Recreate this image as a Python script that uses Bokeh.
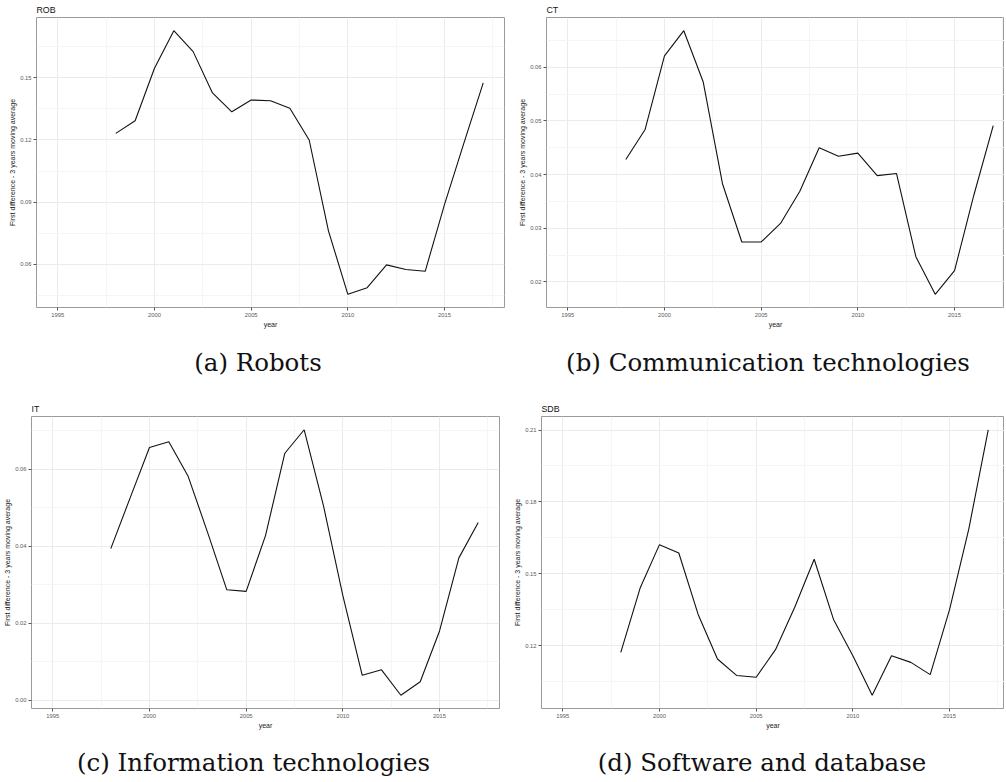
from bokeh.plotting import figure
from bokeh.models import Range1d, FixedTicker, Div, NumeralTickFormatter
from bokeh.layouts import column, row
from bokeh.embed import file_html
from bokeh.resources import INLINE

# ---------------- data ----------------
years = list(range(1998, 2018))
x_domain = [1995, 2017]
x_ticks = [1995, 2000, 2005, 2010, 2015]
x_minor = [1992.5, 1997.5, 2002.5, 2007.5, 2012.5, 2017.5]

rob = [0.1232, 0.1293, 0.1546, 0.1727, 0.1626, 0.1427, 0.1336, 0.1393, 0.1389, 0.1353,
       0.1200, 0.0761, 0.0456, 0.0488, 0.0598, 0.0576, 0.0567, 0.0890, 0.1185, 0.1475]
ct = [0.0428, 0.0484, 0.0621, 0.0668, 0.0573, 0.0383, 0.02745, 0.02745, 0.0309, 0.0369,
      0.0450, 0.0434, 0.0440, 0.0398, 0.0402, 0.0247, 0.0177, 0.0221, 0.0362, 0.0491]
it = [0.0394, 0.0526, 0.0657, 0.0672, 0.0582, 0.0437, 0.0287, 0.0283, 0.0428, 0.0642,
      0.0703, 0.0505, 0.0272, 0.0065, 0.0079, 0.0013, 0.0048, 0.0180, 0.0370, 0.0462]
sdb = [0.1173, 0.1441, 0.1622, 0.1587, 0.1331, 0.1145, 0.1076, 0.1069, 0.1184, 0.1362,
       0.1561, 0.1310, 0.1159, 0.0994, 0.1159, 0.1131, 0.1080, 0.1351, 0.1689, 0.2101]

rob_ticks = [0.06, 0.09, 0.12, 0.15]
rob_minor = [0.045, 0.075, 0.105, 0.135, 0.165]
ct_ticks = [0.02, 0.03, 0.04, 0.05, 0.06]
ct_minor = [0.015, 0.025, 0.035, 0.045, 0.055, 0.065]
it_ticks = [0.00, 0.02, 0.04, 0.06]
it_minor = [-0.01, 0.01, 0.03, 0.05, 0.07]
sdb_ticks = [0.12, 0.15, 0.18, 0.21]
sdb_minor = [0.105, 0.135, 0.165, 0.195]

titles = ["ROB", "CT", "IT", "SDB"]
captions = ["(a) Robots", "(b) Communication technologies",
            "(c) Information technologies", "(d) Software and database"]
y_title = "First difference - 3 years moving average"
x_title = "year"

# ---------------- style ----------------
SANS = "Liberation Sans"
SERIF = "DejaVu Serif"
FULL_FRAME = 468  # px of the full (un-cropped) panel width
span = x_domain[1] - x_domain[0]
x_lo = x_domain[0] - 0.05 * span
x_hi = x_domain[1] + 0.05 * span


def panel(title, ys, yt, ym, width, height, bl, br, bt, bb):
    fw = width - bl - br
    x_end = x_lo + (x_hi - x_lo) * fw / FULL_FRAME
    lo, hi = min(ys), max(ys)
    pad = 0.05 * (hi - lo)
    p = figure(width=width, height=height,
               min_border_left=bl, min_border_right=br,
               min_border_top=bt, min_border_bottom=bb,
               x_range=Range1d(x_lo, x_end), y_range=Range1d(lo - pad, hi + pad),
               output_backend="svg", toolbar_location=None, title=title)
    p.title.text_font = SANS
    p.title.text_font_size = "8.8px"
    p.title.text_font_style = "normal"
    p.title.text_color = "#111111"
    p.title.standoff = 5
    p.title.offset = 0
    p.outline_line_color = "#9a9a9a"
    p.outline_line_width = 1
    p.background_fill_color = "white"
    p.border_fill_color = "white"

    xt = FixedTicker(ticks=x_ticks, minor_ticks=x_minor)
    ytk = FixedTicker(ticks=yt, minor_ticks=ym)
    p.xaxis.ticker = xt
    p.yaxis.ticker = ytk
    p.xgrid.ticker = xt
    p.ygrid.ticker = ytk
    p.yaxis.formatter = NumeralTickFormatter(format="0.00")

    p.axis.axis_line_color = None
    p.axis.major_tick_line_color = "#555555"
    p.axis.major_tick_out = 3
    p.axis.major_tick_in = 0
    p.axis.minor_tick_line_color = None
    p.axis.major_label_text_font = SANS
    p.axis.major_label_text_font_size = "5.8px"
    p.axis.major_label_text_color = "#5a5a5a"
    p.axis.major_label_standoff = 1
    p.axis.axis_label_text_font = SANS
    p.axis.axis_label_text_font_size = "7px"
    p.axis.axis_label_text_font_style = "normal"
    p.axis.axis_label_text_color = "#222222"
    p.axis.axis_label_standoff = 1
    p.xaxis.axis_label = x_title
    p.yaxis.axis_label = y_title

    for g in (p.xgrid, p.ygrid):
        g.grid_line_color = "#ebebeb"
        g.grid_line_width = 1
        g.minor_grid_line_color = "#f5f5f5"
        g.minor_grid_line_width = 1

    p.line(years, ys, line_color="#111111", line_width=1.1)
    return p


def caption(text, width, height, pad_top, pad_left):
    html = ('<div style="box-sizing:border-box;width:%dpx;font-family:\'%s\';'
            'font-size:24.5px;line-height:20px;color:#111;text-align:center;'
            'white-space:nowrap;padding-top:%dpx;padding-left:%dpx;">%s</div>'
            % (width, SERIF, pad_top, pad_left, text))
    return Div(text=html, width=width, height=height, margin=0)


p1 = panel(titles[0], rob, rob_ticks, rob_minor, 506, 330, 36, 2, 16, 19)
p2 = panel(titles[1], ct, ct_ticks, ct_minor, 498, 330, 40, 0, 16, 19)
p3 = panel(titles[2], it, it_ticks, it_minor, 501, 337, 31, 2, 22, 19)
p4 = panel(titles[3], sdb, sdb_ticks, sdb_minor, 503, 337, 40, 0, 22, 19)

c1 = caption(captions[0], 506, 64, 23, 10)
c2 = caption(captions[1], 498, 64, 23, 26)
c3 = caption(captions[2], 501, 43, 22, 6)
c4 = caption(captions[3], 503, 43, 22, 19)

layout = column(row(p1, p2), row(c1, c2), row(p3, p4), row(c3, c4))

open("out.html", "w").write(file_html(layout, INLINE))
